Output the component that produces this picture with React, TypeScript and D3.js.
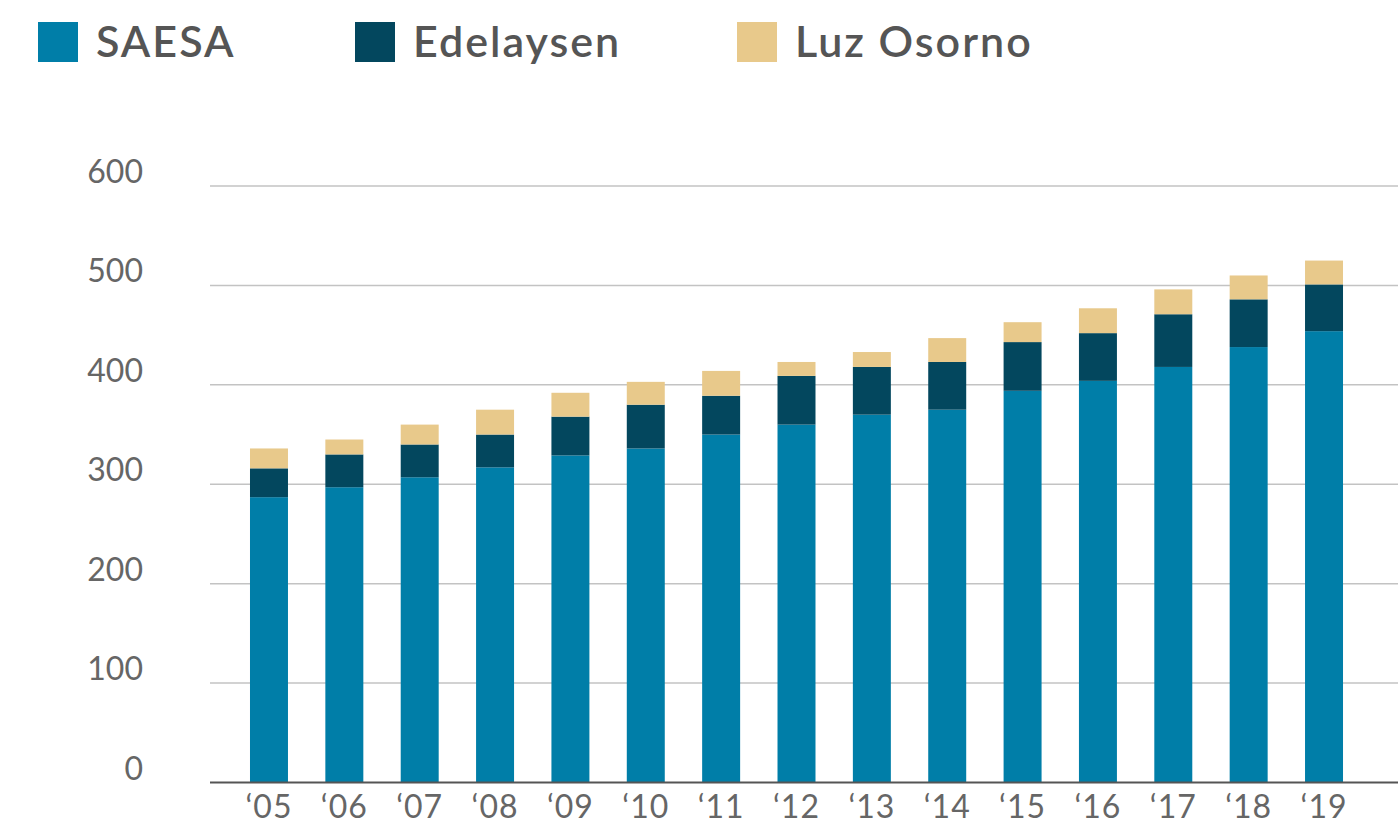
import React from 'react';
import * as d3 from 'd3';

const years = ['05', '06', '07', '08', '09', '10', '11', '12', '13', '14', '15', '16', '17', '18', '19'];
const saesa = [287, 297, 307, 317, 329, 336, 350, 360, 370, 375, 394, 404, 418, 438, 454];
const edelaysen = [29, 33, 33, 33, 39, 44, 39, 49, 48, 48, 49, 48, 53, 48, 47];
const luzOsorno = [20, 15, 20, 25, 24, 23, 25, 14, 15, 24, 20, 25, 25, 24, 24];
const yTicks = [0, 100, 200, 300, 400, 500, 600];

const seriesNames = ['SAESA', 'Edelaysen', 'Luz Osorno'];
const colors = ['#007EA8', '#03475E', '#E8C98B'];

const W = 1398;
const H = 824;
const FONT = 'Lato, "Open Sans", sans-serif';

export default function App() {
  const rows = years.map((yr, i) => ({
    year: yr,
    SAESA: saesa[i],
    Edelaysen: edelaysen[i],
    'Luz Osorno': luzOsorno[i],
  }));

  const stacked = d3.stack<any>().keys(seriesNames)(rows);

  const x = d3
    .scaleBand<string>()
    .domain(years)
    .range([231.3, 1361.7])
    .paddingInner(0.496)
    .paddingOuter(0.248);

  const y = d3.scaleLinear().domain([0, 600]).range([782.5, 186]);

  const legendX = [38, 355, 737];

  return (
    <div style={{ position: 'absolute', left: 0, top: 0 }}>
      <svg width={W} height={H} style={{ display: 'block', fontFamily: FONT }}>
        {/* legend */}
        {seriesNames.map((name, i) => (
          <g key={name} transform={`translate(${legendX[i]},22)`}>
            <rect width={40} height={40} fill={colors[i]} />
            <text x={58} y={35} fontSize={43} fill="#555" fontWeight={600} letterSpacing={2}>
              {name}
            </text>
          </g>
        ))}

        {/* gridlines */}
        {yTicks.slice(1).map((t) => (
          <line key={t} x1={210} x2={W} y1={y(t)} y2={y(t)} stroke="#c3c3c3" strokeWidth={1.5} />
        ))}

        {/* y labels */}
        {yTicks.map((t) => (
          <text key={t} x={143} y={y(t) - 3} textAnchor="end" fontSize={32} fill="#666">
            {t}
          </text>
        ))}

        {/* bars */}
        {stacked.map((s, si) => (
          <g key={s.key} fill={colors[si]}>
            {s.map((d, i) => (
              <rect
                key={i}
                x={x(years[i])}
                width={x.bandwidth()}
                y={y(d[1])}
                height={y(d[0]) - y(d[1])}
              />
            ))}
          </g>
        ))}

        {/* baseline */}
        <line x1={210} x2={W} y1={y(0)} y2={y(0)} stroke="#555" strokeWidth={2} />

        {/* x labels */}
        {years.map((yr) => (
          <text
            key={yr}
            x={(x(yr) as number) + x.bandwidth() / 2}
            y={818}
            textAnchor="middle"
            fontSize={32}
            fill="#666"
            letterSpacing={1}
          >
            {'\u2018' + yr}
          </text>
        ))}
      </svg>
    </div>
  );
}
